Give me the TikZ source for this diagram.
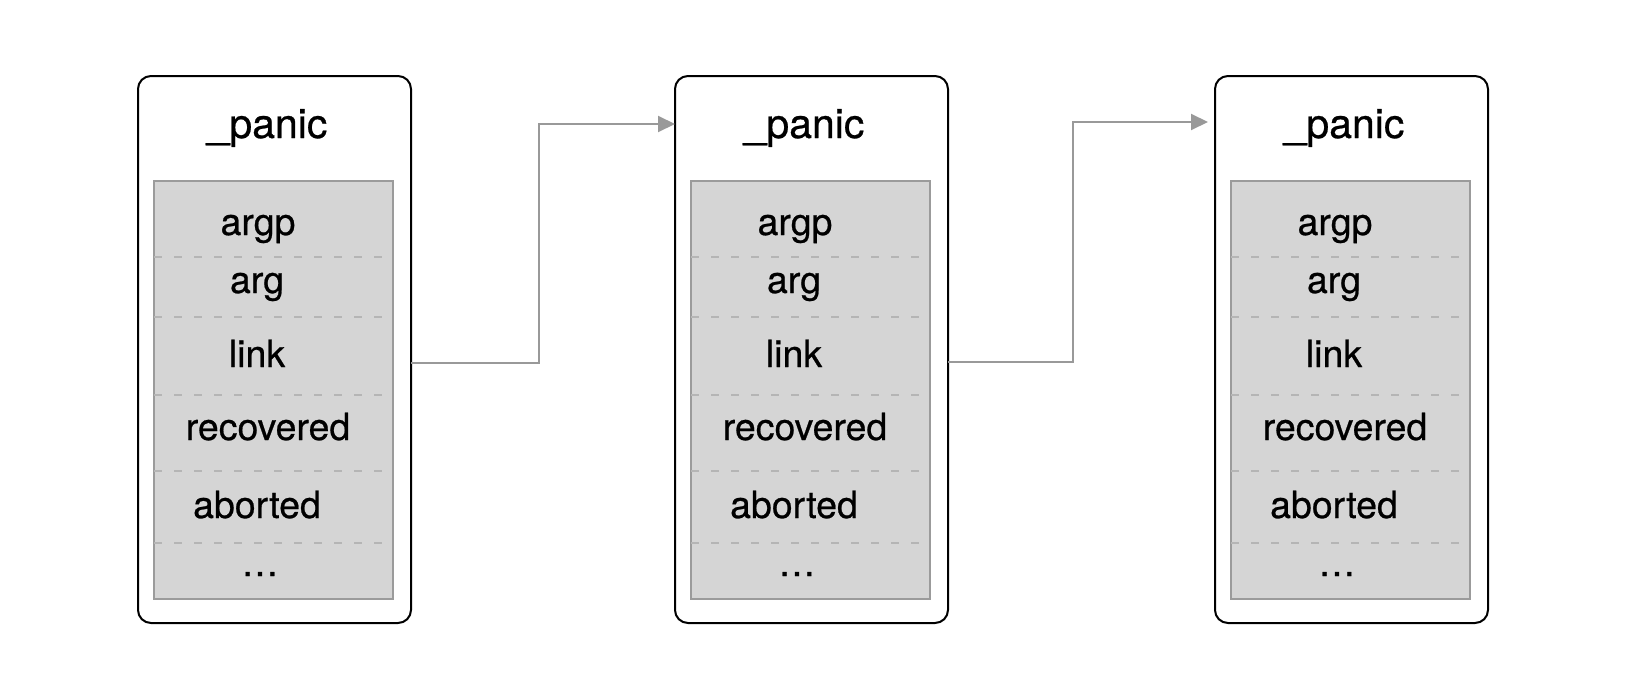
\documentclass[tikz,border=0pt]{standalone}
\usepackage{fontspec}
\setmainfont{TeX Gyre Heros}[FakeBold=0.6]
\usetikzlibrary{arrows.meta}
\definecolor{cellfill}{HTML}{D5D5D5}
\definecolor{cellline}{HTML}{9B9B9B}
\definecolor{sepline}{HTML}{B5B5B5}
\definecolor{connline}{HTML}{999999}
\tikzset{
  outerbox/.style={draw=black, line width=2pt, rounded corners=13pt, minimum width=273pt, minimum height=547pt, inner sep=0pt, outer sep=0pt},
  cellbox/.style={draw=cellline, fill=cellfill, line width=2pt, minimum width=239pt, minimum height=418pt, inner sep=0pt, outer sep=0pt},
  title/.style={anchor=base, inner sep=0pt, font=\fontsize{41}{44}\selectfont},
  field/.style={anchor=base, inner sep=0pt, font=\fontsize{37.5}{40}\selectfont},
  sepdash/.style={draw=sepline, line width=1.5pt, dash pattern=on 8pt off 12pt},
  conn/.style={draw=connline, line width=2pt, -{Triangle[length=17pt,width=16pt]}}
}
\begin{document}
\begin{tikzpicture}[x=1pt,y=-1pt]
\useasboundingbox (0,0) rectangle (1638,688);
\foreach \i/\dx in {1/0,2/537,3/1077}{
  \begin{scope}[xshift=\dx pt]
  \node[outerbox] (b\i) at (274.5,349.5) {};
  \node[cellbox] (c\i) at (273.5,390) {};
  \foreach \yy in {257,317,395,471,543}{
    \draw[sepdash] (154,\yy) -- (386,\yy);
  }
  \node[title] (t\i) at (267,138) {\_panic};
  \node[field] (argp\i) at (258,235) {argp};
  \node[field] (arg\i) at (257,293) {arg};
  \node[field] (link\i) at (257,367) {link};
  \node[field] (rec\i) at (268,440) {recovered};
  \node[field] (abo\i) at (257,518) {aborted};
  \node[field] (dots\i) at (260,576) {.\kern2pt.\kern2pt.};
  \end{scope}
}
\coordinate (e1) at (1208,122);
\draw[conn] (b1.east |- 0,363) -- (539,363) |- (b2.west |- 0,124);
\draw[conn] (b2.east |- 0,362) -- (1073,362) |- (e1);
\end{tikzpicture}
\end{document}
